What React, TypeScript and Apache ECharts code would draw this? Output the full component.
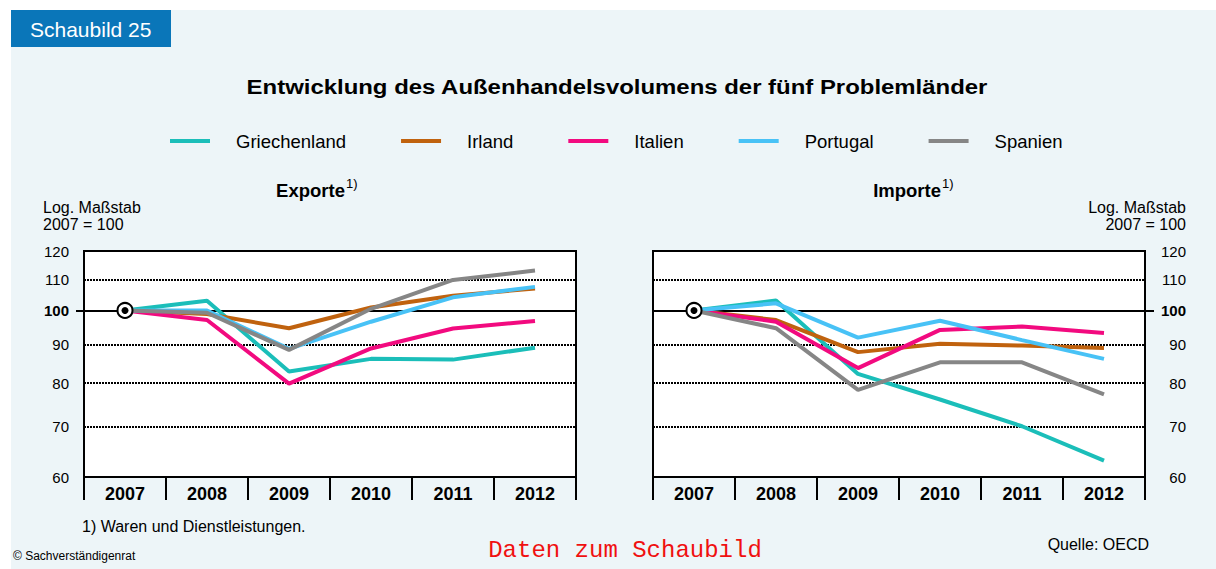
import React, { useEffect, useRef } from "react";
import * as echarts from "echarts";

const years = ["2007", "2008", "2009", "2010", "2011", "2012"];
const countries = ["Griechenland", "Irland", "Italien", "Portugal", "Spanien"];
const colors = ["#1BBEB9", "#C0620E", "#F20A7F", "#48C2F6", "#868686"];

const exGriechenland = [100, 103.0, 82.9, 86.2, 86.0, 89.2];
const exIrland = [100, 98.9, 94.7, 100.9, 104.6, 107.0];
const exItalien = [100, 97.1, 79.9, 89.0, 94.6, 96.8];
const exPortugal = [100, 100.0, 88.9, 96.6, 104.1, 107.5];
const exSpanien = [100, 99.3, 88.6, 100.5, 109.8, 113.0];

const imGriechenland = [100, 103.1, 82.3, 76.1, 70.1, 63.1];
const imIrland = [100, 97.1, 88.0, 90.3, 89.8, 89.1];
const imItalien = [100, 96.6, 83.8, 94.2, 95.2, 93.3];
const imPortugal = [100, 102.2, 92.0, 96.9, 91.3, 86.2];
const imSpanien = [100, 94.7, 78.4, 85.3, 85.3, 77.3];

const yTicks = [60, 70, 80, 90, 110, 120];
const baseValue = 100;
const yMin = 60;
const yMax = 120;

const FONT = '"Liberation Sans", Arial, Helvetica, sans-serif';

const exportSeries = [exGriechenland, exIrland, exItalien, exPortugal, exSpanien];
const importSeries = [imGriechenland, imIrland, imItalien, imPortugal, imSpanien];

function buildOption() {
  const grids = [
    { left: 84, right: 640, top: 251, bottom: 92 },
    { left: 653, right: 71, top: 251, bottom: 92 },
  ].map((g) => ({
    ...g,
    show: true,
    backgroundColor: "#ffffff",
    borderColor: "#000000",
    borderWidth: 2,
  }));

  const xAxes = [0, 1].map((i) => ({
    type: "category",
    gridIndex: i,
    data: years,
    boundaryGap: true,
    axisLine: { show: true, lineStyle: { color: "#000", width: 2 } },
    axisTick: { show: true, interval: 0, length: 23, lineStyle: { color: "#000", width: 2 } },
    axisLabel: {
      interval: 0,
      fontSize: 18,
      fontWeight: "bold",
      color: "#000",
      fontFamily: FONT,
      margin: 8,
    },
    splitLine: { show: false },
  }));

  const yAxes = [0, 1].map((i) => ({
    type: "log",
    logBase: 10,
    gridIndex: i,
    min: yMin,
    max: yMax,
    axisLine: { show: false },
    axisTick: { show: false },
    axisLabel: { show: false },
    splitLine: { show: false },
  }));

  const refSeries = [0, 1].map((i) => {
    const left = i === 0;
    return {
      type: "line",
      name: "ref" + i,
      xAxisIndex: i,
      yAxisIndex: i,
      data: [],
      silent: true,
      markLine: {
        silent: true,
        z: 1,
        symbol: ["none", "none"],
        lineStyle: { color: "#000", width: 2, type: [2, 1] },
        label: {
          show: true,
          position: left ? "start" : "end",
          distance: left ? 15 : 41,
          align: "right",
          verticalAlign: "middle",
          fontSize: 15,
          color: "#000",
          fontFamily: FONT,
          formatter: (p: any) => String(p.value),
        },
        data: [
          ...yTicks.map((v) => ({ yAxis: v })),
          [
            {
              x: left ? 76 : 653,
              yAxis: baseValue,
              value: baseValue,
              lineStyle: { type: "solid" },
              label: {
                fontWeight: "bold",
                distance: left ? 7 : 32,
                position: left ? "start" : "end",
              },
            },
            { x: left ? 576 : 1154, yAxis: baseValue },
          ],
        ],
      },
    };
  });

  const lineSeries: any[] = [];
  [exportSeries, importSeries].forEach((set, gi) => {
    set.forEach((vals, ci) => {
      lineSeries.push({
        type: "line",
        name: countries[ci],
        xAxisIndex: gi,
        yAxisIndex: gi,
        data: vals,
        symbol: "none",
        z: 3,
        silent: true,
        lineStyle: { color: colors[ci], width: 4 },
        itemStyle: { color: colors[ci] },
      });
    });
  });

  const markerSeries: any[] = [];
  [0, 1].forEach((gi) => {
    markerSeries.push({
      type: "scatter",
      name: "m-outer" + gi,
      xAxisIndex: gi,
      yAxisIndex: gi,
      data: [[years[0], baseValue]],
      symbol: "circle",
      symbolSize: 15,
      z: 10,
      silent: true,
      itemStyle: { color: "#fff", borderColor: "#000", borderWidth: 2, opacity: 1 },
    });
    markerSeries.push({
      type: "scatter",
      name: "m-inner" + gi,
      xAxisIndex: gi,
      yAxisIndex: gi,
      data: [[years[0], baseValue]],
      symbol: "circle",
      symbolSize: 7,
      z: 11,
      silent: true,
      itemStyle: { color: "#000", opacity: 1 },
    });
  });

  const textStyle = (extra: any) => ({ fontFamily: FONT, fill: "#000", ...extra });

  const graphic = [
    { type: "rect", shape: { x: 11, y: 10, width: 160, height: 37 }, style: { fill: "#0A76B9" } },
    {
      type: "text",
      x: 30,
      y: 29,
      style: textStyle({ text: "Schaubild 25", fontSize: 21, fill: "#fff", verticalAlign: "middle" }),
    },
    {
      type: "text",
      x: 617,
      y: 87,
      scaleX: 1.14,
      style: textStyle({
        text: "Entwicklung des Außenhandelsvolumens der fünf Problemländer",
        fontSize: 21,
        fontWeight: "bold",
        align: "center",
        verticalAlign: "middle",
      }),
    },
    {
      type: "text",
      x: 345,
      y: 190,
      style: textStyle({ text: "Exporte", fontSize: 18.5, fontWeight: "bold", align: "right", verticalAlign: "middle" }),
    },
    {
      type: "text",
      x: 346,
      y: 183,
      style: textStyle({ text: "1)", fontSize: 13, align: "left", verticalAlign: "middle" }),
    },
    {
      type: "text",
      x: 941,
      y: 190,
      style: textStyle({ text: "Importe", fontSize: 18.5, fontWeight: "bold", align: "right", verticalAlign: "middle" }),
    },
    {
      type: "text",
      x: 942,
      y: 183,
      style: textStyle({ text: "1)", fontSize: 13, align: "left", verticalAlign: "middle" }),
    },
    {
      type: "text",
      x: 43,
      y: 199,
      style: textStyle({ text: "Log. Maßstab\n2007 = 100", fontSize: 16, lineHeight: 17, verticalAlign: "top", align: "left" }),
    },
    {
      type: "text",
      x: 1186,
      y: 199,
      style: textStyle({ text: "Log. Maßstab\n2007 = 100", fontSize: 16, lineHeight: 17, verticalAlign: "top", align: "right" }),
    },
    {
      type: "text",
      x: 82,
      y: 526,
      style: textStyle({ text: "1) Waren und Dienstleistungen.", fontSize: 16, verticalAlign: "middle" }),
    },
    {
      type: "text",
      x: 13,
      y: 556,
      style: textStyle({ text: "© Sachverständigenrat", fontSize: 12, verticalAlign: "middle" }),
    },
    {
      type: "text",
      x: 625,
      y: 550,
      style: {
        text: "Daten zum Schaubild",
        fontFamily: '"Liberation Mono", "DejaVu Sans Mono", monospace',
        fontSize: 24,
        fill: "#F01010",
        align: "center",
        verticalAlign: "middle",
      },
    },
    {
      type: "text",
      x: 1149,
      y: 544,
      style: textStyle({ text: "Quelle: OECD", fontSize: 16, align: "right", verticalAlign: "middle" }),
    },
  ];

  return {
    animation: false,
    backgroundColor: "transparent",
    legend: {
      data: countries,
      left: 170,
      top: 131,
      padding: 0,
      icon: "rect",
      itemWidth: 40,
      itemHeight: 4,
      itemGap: 55,
      selectedMode: false,
      textStyle: { fontSize: 18.5, color: "#000", fontFamily: FONT, padding: [0, 0, 0, 21], lineHeight: 20 },
    },
    grid: grids,
    xAxis: xAxes,
    yAxis: yAxes,
    series: [...refSeries, ...lineSeries, ...markerSeries],
    graphic,
  };
}

export default function App() {
  const ref = useRef<HTMLDivElement>(null);
  useEffect(() => {
    if (!ref.current) return;
    const chart = echarts.init(ref.current, null, { renderer: "svg" });
    chart.setOption(buildOption() as any);
    return () => chart.dispose();
  }, []);
  return (
    <div style={{ position: "absolute", left: 0, top: 0, width: 1216, height: 569, background: "#ffffff" }}>
      <div style={{ position: "absolute", left: 11, top: 10, width: 1205, height: 559, background: "#EDF5F8" }} />
      <div ref={ref} style={{ position: "absolute", left: 0, top: 0, width: 1216, height: 569 }} />
    </div>
  );
}
